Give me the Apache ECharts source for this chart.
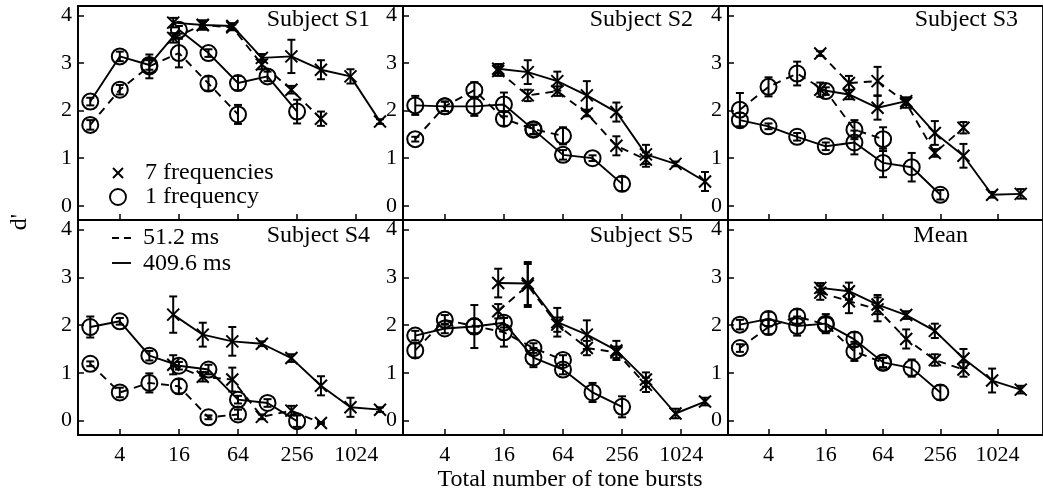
<!DOCTYPE html>
<html>
<head>
<meta charset="utf-8">
<script src="https://cdn.jsdelivr.net/npm/echarts@6/dist/echarts.min.js"></script>
<style>html,body{margin:0;padding:0;background:#fff}#c{width:1043px;height:495px}</style>
</head>
<body>
<div id="c"></div>
<script>
// ---------- data ----------
const burstsO = [2, 4, 8, 16, 32, 64, 128, 256];          // 1 frequency
const burstsX = [14, 28, 56, 112, 224, 448, 896, 1792];   // 7 frequencies
const xTickLabels = [4, 16, 64, 256, 1024];
const yTickLabels = [0, 1, 2, 3, 4];
const panelTitles = ['Subject S1', 'Subject S2', 'Subject S3', 'Subject S4', 'Subject S5', 'Mean'];

// S1
const s1_x51 = [3.53, 3.80, 3.75, 2.97, 2.44, 1.83];
const s1_x51e = [0.10, 0.10, 0.06, 0.10, 0.08, 0.15];
const s1_x409 = [3.85, 3.80, 3.78, 3.11, 3.14, 2.86, 2.72, 1.77];
const s1_x409e = [0.10, 0.08, 0.06, 0.08, 0.35, 0.20, 0.15, 0.05];
const s1_o51 = [1.70, 2.44, 2.93, 3.21, 2.57, 1.92];
const s1_o51e = [0.10, 0.10, 0.25, 0.30, 0.15, 0.20];
const s1_o409 = [2.19, 3.14, 2.96, 3.70, 3.21, 2.58, 2.72, 1.98];
const s1_o409e = [0.08, 0.10, 0.10, 0.08, 0.08, 0.15, 0.10, 0.25];
// S2
const s2_x51 = [2.83, 2.32, 2.41, 1.94, 1.26, 0.97];
const s2_x51e = [0.10, 0.12, 0.10, 0.06, 0.20, 0.15];
const s2_x409 = [2.88, 2.81, 2.62, 2.32, 1.97, 1.08, 0.88, 0.51];
const s2_x409e = [0.10, 0.25, 0.20, 0.30, 0.20, 0.20, 0.05, 0.20];
const s2_o51 = [1.40, 2.09, 2.43, 1.83, 1.61, 1.47];
const s2_o51e = [0.05, 0.10, 0.17, 0.15, 0.10, 0.18];
const s2_o409 = [2.11, 2.09, 2.09, 2.13, 1.60, 1.07, 1.00, 0.46];
const s2_o409e = [0.20, 0.10, 0.20, 0.25, 0.10, 0.10, 0.06, 0.15];
// S3
const s3_x51 = [3.20, 2.58, 2.62, 2.16, 1.11, 1.64];
const s3_x51e = [0.05, 0.15, 0.30, 0.10, 0.08, 0.12];
const s3_x409 = [2.44, 2.34, 2.06, 2.20, 1.53, 1.05, 0.23, 0.25];
const s3_x409e = [0.15, 0.10, 0.25, 0.08, 0.25, 0.25, 0.06, 0.10];
const s3_o51 = [2.02, 2.50, 2.78, 2.41, 1.60, 1.40];
const s3_o51e = [0.35, 0.20, 0.25, 0.08, 0.20, 0.25];
const s3_o409 = [1.80, 1.67, 1.45, 1.25, 1.33, 0.90, 0.81, 0.23];
const s3_o409e = [0.15, 0.06, 0.08, 0.08, 0.25, 0.30, 0.30, 0.10];
// S4
const s4_x51 = [1.17, 0.92, 0.86, 0.08, 0.21, -0.05];
const s4_x51e = [0.20, 0.10, 0.25, 0.05, 0.10, 0.02];
const s4_x409 = [2.22, 1.80, 1.66, 1.61, 1.31, 0.73, 0.28, 0.23];
const s4_x409e = [0.38, 0.25, 0.30, 0.05, 0.08, 0.20, 0.20, 0.05];
const s4_o51 = [1.19, 0.59, 0.79, 0.72, 0.07, 0.13];
const s4_o51e = [0.05, 0.10, 0.20, 0.15, 0.04, 0.10];
const s4_o409 = [1.96, 2.08, 1.36, 1.15, 1.07, 0.44, 0.37, -0.01];
const s4_o409e = [0.22, 0.07, 0.10, 0.08, 0.10, 0.08, 0.08, 0.12];
// S5
const s5_x51 = [2.29, 2.83, 2.01, 1.52, 1.43, 0.75];
const s5_x51e = [0.15, 0.45, 0.15, 0.15, 0.12, 0.15];
const s5_x409 = [2.88, 2.87, 2.06, 1.80, 1.47, 0.86, 0.15, 0.40];
const s5_x409e = [0.30, 0.45, 0.30, 0.30, 0.20, 0.15, 0.10, 0.08];
const s5_o51 = [1.47, 2.11, 1.98, 1.85, 1.52, 1.27];
const s5_o51e = [0.15, 0.10, 0.15, 0.30, 0.10, 0.10];
const s5_o409 = [1.78, 1.93, 1.97, 2.05, 1.32, 1.07, 0.59, 0.29];
const s5_o409e = [0.10, 0.10, 0.45, 0.10, 0.20, 0.10, 0.20, 0.22];
// Mean
const mn_x51 = [2.68, 2.50, 2.33, 1.71, 1.27, 1.07];
const mn_x51e = [0.15, 0.25, 0.25, 0.20, 0.12, 0.15];
const mn_x409 = [2.78, 2.71, 2.43, 2.21, 1.88, 1.30, 0.84, 0.65];
const mn_x409e = [0.10, 0.18, 0.20, 0.08, 0.15, 0.20, 0.25, 0.08];
const mn_o51 = [1.52, 1.96, 2.18, 2.01, 1.45, 1.21];
const mn_o51e = [0.08, 0.15, 0.15, 0.15, 0.20, 0.10];
const mn_o409 = [2.01, 2.13, 1.98, 2.03, 1.70, 1.22, 1.10, 0.59];
const mn_o409e = [0.10, 0.15, 0.20, 0.20, 0.15, 0.10, 0.18, 0.15];

const panels = [
  [s1_x51, s1_x51e, s1_x409, s1_x409e, s1_o51, s1_o51e, s1_o409, s1_o409e],
  [s2_x51, s2_x51e, s2_x409, s2_x409e, s2_o51, s2_o51e, s2_o409, s2_o409e],
  [s3_x51, s3_x51e, s3_x409, s3_x409e, s3_o51, s3_o51e, s3_o409, s3_o409e],
  [s4_x51, s4_x51e, s4_x409, s4_x409e, s4_o51, s4_o51e, s4_o409, s4_o409e],
  [s5_x51, s5_x51e, s5_x409, s5_x409e, s5_o51, s5_o51e, s5_o409, s5_o409e],
  [mn_x51, mn_x51e, mn_x409, mn_x409e, mn_o51, mn_o51e, mn_o409, mn_o409e]
];

// ---------- layout / style ----------
const FONT = 'Liberation Serif';
const colLeft = [78, 403, 728];
const colW = 325;
const rowTop = [6, 220];
const rowH = [214, 215];
const titlePos = [[370, 20], [693, 20], [1018, 20], [370, 236], [693, 236], [968, 236]];
const XSYM = 'path://M0,0L10,10M10,0L0,10';
const DASH = [8, 6];

const chart = echarts.init(document.getElementById('c'));
const grids = [], xAxes = [], yAxes = [], series = [], graphics = [];

function errSeries(i, bursts, vals, errs) {
  return {
    type: 'custom', xAxisIndex: i, yAxisIndex: i, silent: true, animation: false, clip: false, z: 3,
    data: vals.map((v, j) => [Math.log2(bursts[j]), v, errs[j]]),
    encode: { x: 0, y: 1 },
    renderItem: function (params, api) {
      const x = api.value(0), y = api.value(1), e = api.value(2);
      const t = api.coord([x, y + e]), b = api.coord([x, y - e]);
      const hw = 4, st = { stroke: '#000', lineWidth: 2 };
      return { type: 'group', children: [
        { type: 'line', shape: { x1: t[0], y1: t[1], x2: b[0], y2: b[1] }, style: st },
        { type: 'line', shape: { x1: t[0] - hw, y1: t[1], x2: t[0] + hw, y2: t[1] }, style: st },
        { type: 'line', shape: { x1: b[0] - hw, y1: b[1], x2: b[0] + hw, y2: b[1] }, style: st }
      ]};
    }
  };
}
function lineSeries(i, bursts, vals, dashed, isX) {
  return {
    type: 'line', xAxisIndex: i, yAxisIndex: i, silent: true, animation: false, z: 4,
    data: vals.map((v, j) => [Math.log2(bursts[j]), v]),
    symbol: isX ? XSYM : 'circle',
    symbolSize: isX ? 12 : 16,
    showAllSymbol: true,
    lineStyle: { color: '#000', width: 1.9, type: dashed ? DASH : 'solid' },
    itemStyle: { color: isX ? '#000' : 'rgba(0,0,0,0)', borderColor: '#000', borderWidth: 2 }
  };
}

for (let i = 0; i < 6; i++) {
  const r = Math.floor(i / 3), c = i % 3;
  grids.push({ left: colLeft[c], top: rowTop[r], width: colW, height: rowH[r], show: true,
    borderColor: '#000', borderWidth: 1.8, backgroundColor: 'transparent' });
  xAxes.push({
    gridIndex: i, type: 'value', min: Math.log2(1.5), max: Math.log2(3072),
    axisLine: { show: true, onZero: false, lineStyle: { color: '#000', width: 1.8 } },
    splitLine: { show: false },
    axisTick: { show: true, inside: true, length: 6, lineStyle: { color: '#000', width: 1.5 },
      customValues: xTickLabels.map(v => Math.log2(v)) },
    axisLabel: { show: r === 1, customValues: xTickLabels.map(v => Math.log2(v)),
      formatter: v => String(Math.round(Math.pow(2, v))),
      fontFamily: FONT, fontSize: 22, color: '#000', margin: 9 }
  });
  yAxes.push({
    gridIndex: i, type: 'value', min: -0.3, max: 4.2,
    axisLine: { show: true, onZero: false, lineStyle: { color: '#000', width: 1.8 } },
    splitLine: { show: false },
    axisTick: { show: true, inside: true, length: 6, lineStyle: { color: '#000', width: 1.5 },
      customValues: yTickLabels },
    axisLabel: { customValues: yTickLabels, fontFamily: FONT, fontSize: 22, color: '#000', margin: 6 }
  });
  const d = panels[i];
  series.push(errSeries(i, burstsX, d[0], d[1]));
  series.push(errSeries(i, burstsX, d[2], d[3]));
  series.push(errSeries(i, burstsO, d[4], d[5]));
  series.push(errSeries(i, burstsO, d[6], d[7]));
  series.push(lineSeries(i, burstsX, d[0], true, true));
  series.push(lineSeries(i, burstsX, d[2], false, true));
  series.push(lineSeries(i, burstsO, d[4], true, false));
  series.push(lineSeries(i, burstsO, d[6], false, false));
  graphics.push({ type: 'text', x: titlePos[i][0], y: titlePos[i][1], z: 10,
    style: { text: panelTitles[i], font: '24px "' + FONT + '"', fill: '#000', textAlign: 'right', textVerticalAlign: 'middle' } });
}

const txt = (s, x, y, extra) => Object.assign({ type: 'text', x: x, y: y, z: 10,
  style: { text: s, font: '24px "' + FONT + '"', fill: '#000', textAlign: 'left', textVerticalAlign: 'middle' } }, extra || {});
const stroke = { stroke: '#000', lineWidth: 1.9 };
graphics.push(
  { type: 'line', shape: { x1: 113, y1: 168, x2: 123, y2: 178 }, style: stroke },
  { type: 'line', shape: { x1: 123, y1: 168, x2: 113, y2: 178 }, style: stroke },
  txt('7 frequencies', 145, 173),
  { type: 'circle', shape: { cx: 118, cy: 197, r: 8 }, style: { stroke: '#000', lineWidth: 1.9, fill: 'none' } },
  txt('1 frequency', 145, 197),
  { type: 'line', shape: { x1: 112, y1: 238, x2: 131, y2: 238 }, style: { stroke: '#000', lineWidth: 1.9, lineDash: [7, 5] } },
  txt('51.2 ms', 143, 238),
  { type: 'line', shape: { x1: 112, y1: 263, x2: 131, y2: 263 }, style: stroke },
  txt('409.6 ms', 143, 264),
  { type: 'text', x: 570, y: 480, z: 10,
    style: { text: 'Total number of tone bursts', font: '24px "' + FONT + '"', fill: '#000', textAlign: 'center', textVerticalAlign: 'middle' } },
  { type: 'text', x: 20, y: 222, rotation: Math.PI / 2, z: 10,
    style: { text: "d'", font: '24px "' + FONT + '"', fill: '#000', textAlign: 'center', textVerticalAlign: 'middle' } }
);

chart.setOption({
  animation: false,
  backgroundColor: '#fff',
  grid: grids, xAxis: xAxes, yAxis: yAxes, series: series, graphic: graphics
});
</script>
</body>
</html>
